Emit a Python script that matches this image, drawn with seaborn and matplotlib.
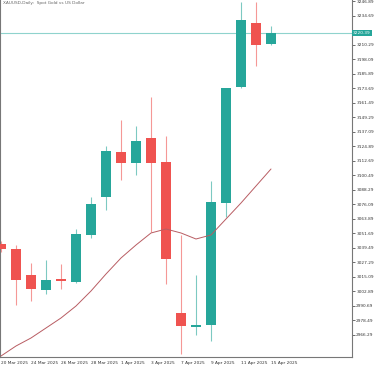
import numpy as np
import pandas as pd
import seaborn as sns
import matplotlib.pyplot as plt

# daily gold candles
dates = ["20 Mar 2025", "21 Mar 2025", "24 Mar 2025", "25 Mar 2025", "26 Mar 2025",
         "27 Mar 2025", "28 Mar 2025", "31 Mar 2025", "1 Apr 2025", "2 Apr 2025",
         "3 Apr 2025", "4 Apr 2025", "7 Apr 2025", "8 Apr 2025", "9 Apr 2025",
         "10 Apr 2025", "11 Apr 2025", "14 Apr 2025", "15 Apr 2025"]
opens = [3042.85, 3038.65, 3016.77, 3004.15, 3013.00, 3010.88, 3050.42, 3082.40, 3120.26, 3111.00,
         3132.04, 3111.85, 2984.79, 2973.40, 2974.70, 3077.35, 3174.95, 3228.80, 3211.13]
highs = [3045.40, 3042.00, 3026.86, 3029.39, 3026.02, 3055.47, 3082.40, 3125.31, 3147.18, 3142.14,
         3166.54, 3133.72, 3050.42, 3016.77, 3095.86, 3174.50, 3246.47, 3246.47, 3226.28]
lows = [3036.00, 2991.50, 2994.89, 3000.78, 3004.99, 3010.04, 3047.90, 3071.46, 3096.70, 3100.91,
        3052.95, 3009.20, 2950.00, 2966.29, 2961.24, 3065.57, 3174.11, 3192.62, 3210.29]
closes = [3038.65, 3012.56, 3004.99, 3012.56, 3012.10, 3051.27, 3076.51, 3121.10, 3111.00, 3129.52,
          3111.00, 3030.23, 2973.86, 2974.30, 3078.19, 3174.11, 3231.33, 3210.29, 3220.39]
ma = [2948.61, 2957.03, 2963.76, 2972.17, 2980.59, 2990.68, 3003.31, 3017.61, 3031.07, 3042.01,
      3052.11, 3055.47, 3052.11, 3047.06, 3050.42, 3063.89, 3077.35, 3091.65, 3105.96]

yticks = [2966.29 + 12.2 * k for k in range(24)]
title = "XAUUSD,Daily:  Spot Gold vs US Dollar"

df = pd.DataFrame({"date": dates, "open": opens, "high": highs, "low": lows,
                   "close": closes, "ma": ma})
df["idx"] = np.arange(len(df))
df["up"] = df["close"] >= df["open"]

green = "#26a69a"
red = "#ef5350"

sns.set_style("white")
fig = plt.figure(figsize=(3.75, 3.66), dpi=100)
ax = fig.add_axes([0.0, 1 - 357 / 366, 352 / 375, 357 / 366])

cols = [green if u else red for u in df["up"]]
ax.vlines(df["idx"], df["low"], df["high"], colors=cols, linewidth=0.8, alpha=0.6, zorder=2)
body_lo = np.minimum(df["open"], df["close"])
body_h = np.maximum(np.abs(df["close"] - df["open"]), 0.9)
ax.bar(df["idx"], body_h, bottom=body_lo, width=0.72, color=cols, linewidth=0, zorder=3)

sns.lineplot(x="idx", y="ma", data=df, ax=ax, color="#b85c62", linewidth=0.7, zorder=4)

last = closes[-1]
ax.axhline(last, color="#8fd3cd", linewidth=0.8, zorder=1)

ax.set_xlim(-1 / 15, 351 / 15)
ax.set_ylim(2947.77, 3248.15)

ax.yaxis.tick_right()
ax.set_yticks(yticks)
# the tick under the price tag is hidden by it
ax.set_yticklabels(["" if abs(t - last) < 5 else f"{t:.2f}" for t in yticks])
ax.set_xticks(df["idx"][::2])
ax.set_xticklabels(df["date"][::2], ha="left")
ax.tick_params(axis="both", labelsize=3.1, length=2, width=0.5, colors="#333333", pad=1)
ax.set_xlabel("")
ax.set_ylabel("")

for s in ["left", "right", "bottom"]:
    ax.spines[s].set_color("#777777")
    ax.spines[s].set_linewidth(0.8)
ax.spines["top"].set_visible(False)

ax.text(1.003, last, f"{last:.2f}", transform=ax.get_yaxis_transform(), fontsize=3.1,
        color="white", va="center", ha="left",
        bbox=dict(boxstyle="square,pad=0.25", fc=green, ec="none"), clip_on=False, zorder=5)

ax.text(0.008, 0.998, title, transform=ax.transAxes, fontsize=3.1, color="#666666",
        va="top", ha="left")

plt.savefig("out.png", dpi=100)
